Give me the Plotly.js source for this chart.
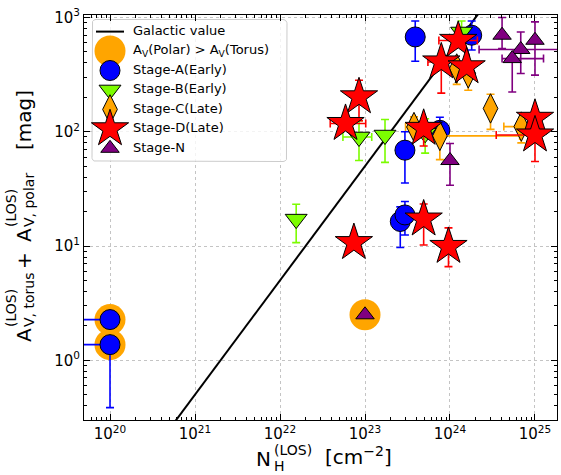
<!DOCTYPE html>
<html>
<head>
<meta charset="utf-8">
<script src="https://cdn.plot.ly/plotly-3.0.1.min.js"></script>
<style>
  html, body { margin: 0; padding: 0; background: #ffffff; }
  #chart { width: 561px; height: 475px; }
</style>
</head>
<body>
<div id="chart"></div>
<script>
// ---------------------------------------------------------------------------
// Line-of-sight hydrogen column N_H [cm^-2] versus total A_V [mag]
// Bounds (lo / hi) are the ends of the error bars; null = no bar on that side.
// ---------------------------------------------------------------------------

// Stage-A (Early)
const stageA_NH   = [1e20, 1e20, 3.9e23, 2.95e23, 1.8e24, 7.6e23, 2.6e23, 2.95e23];
const stageA_AV   = [2.27, 1.37, 676, 69, 700, 103, 16.4, 18.7];
const stageA_NHlo = [1e19, 1e19, null, null, null, null, null, null];
const stageA_NHhi = [null, null, null, null, null, null, null, null];
const stageA_AVlo = [null, 0.385, 414, 35.6, 520, 80, 9.7, 12.5];
const stageA_AVhi = [null, null, 933, 100, 933, 134, 22, 24.5];

// Stage-B (Early)
const stageB_NH   = [1.55e22, 8.5e22, 1.72e23, 5.1e23, 1.37e24];
const stageB_AV   = [17.2, 90, 93.6, 97, 747];
const stageB_NHlo = [null, 5.5e22, null, null, null];
const stageB_NHhi = [null, 1.2e23, null, null, null];
const stageB_AVlo = [10.7, 56, 54, 65, 560];
const stageB_AVhi = [23.2, 125, 128, 130, 933];

// Stage-C (Late)
const stageC_NH   = [3.0e24, 6.9e24, 3.77e23, 7.6e23, 1.64e24, 1.2e24];
const stageC_AV   = [160, 111, 110, 92, 324, 358];
const stageC_NHlo = [null, 4.3e24, 3.0e23, null, null, 9.0e23];
const stageC_NHhi = [null, null, null, 6.6e24, null, null];
const stageC_AVlo = [105, 80, null, 57, 231, 260];
const stageC_AVhi = [213, null, 135, null, null, null];

// Stage-D (Late)
const stageD_NH   = [7.4e22, 4.9e23, 9.6e23, 8.5e22, 5.9e22, 4.9e23, 1e25, 1e25, 1.25e24, 7.9e23, 1.57e24];
const stageD_AV   = [10.7, 17.2, 9.9, 202, 118, 107, 131, 93.6, 630, 408, 370];
const stageD_NHlo = [null, null, null, null, 3.9e22, null, null, 3.5e24, 7.4e23, 5.5e23, null];
const stageD_NHhi = [null, null, null, null, 1.02e23, null, null, null, 2.1e24, null, null];
const stageD_AVlo = [null, 10.2, 6.6, 125, null, 75, null, 55, null, 218, null];
const stageD_AVhi = [null, 23.3, 14.4, 282, null, null, null, null, null, null, null];

// Stage-N
const stageN_NH   = [1e23, 1e24, 4.1e24, 1e25, 6.8e24, 5.4e24];
const stageN_AV   = [2.5, 56, 700, 632, 525, 437];
const stageN_NHlo = [null, null, null, null, 2.2e24, 4.1e24];
const stageN_NHhi = [null, null, null, null, 3e25, 1.26e25];
const stageN_AVlo = [null, 34, 535, 313, 324, 223];
const stageN_AVhi = [null, 79, 1000, 915, 747, null];

// Sources with A_V(polar) > A_V(torus)
const polarDom_NH = [1e20, 1e20, 1e23];
const polarDom_AV = [2.27, 1.37, 2.5];

// Galactic gas-to-dust ratio N_H / A_V [cm^-2 mag^-1]
const galacticRatio = 2.0e21;
const galacticNH = [1e19, 1e26];

// Axis ticks
const xTickVals = [1e20, 1e21, 1e22, 1e23, 1e24, 1e25];
const xTickText = ['10<sup>20</sup>', '10<sup>21</sup>', '10<sup>22</sup>', '10<sup>23</sup>', '10<sup>24</sup>', '10<sup>25</sup>'];
const yTickVals = [1, 10, 100, 1000];
const yTickText = ['10<sup>0</sup>', '10<sup>1</sup>', '10<sup>2</sup>', '10<sup>3</sup>'];

// Legend labels
const legendLabels = ['Galactic value', 'A<sub>V</sub>(Polar) > A<sub>V</sub>(Torus)',
  'Stage-A(Early)', 'Stage-B(Early)', 'Stage-C(Late)', 'Stage-D(Late)', 'Stage-N'];

// ---------------------------------------------------------------------------
const FONT = 'DejaVu Sans, Liberation Sans, sans-serif';

// plot-area placement in page pixels
const M = { l: 84, r: 4, t: 15, b: 55 };
const W = 561, H = 475;
const PW = W - M.l - M.r, PH = H - M.t - M.b;
const px2paperX = p => (p - M.l) / PW;
const px2paperY = p => (H - M.b - p) / PH;

function errBar(vals, lo, hi, color) {
  const minus = vals.map((v, i) => lo[i] == null ? NaN : v - lo[i]);
  const plus = vals.map((v, i) => hi[i] == null ? NaN : hi[i] - v);
  return { type: 'data', symmetric: false, array: plus, arrayminus: minus,
           color: color, thickness: 1.6, width: 4 };
}

const STYLE = {
  polar: { symbol: 'circle', size: 31, color: '#ffa500', line: { width: 0 } },
  A: { symbol: 'circle', size: 20, color: '#0000ff', line: { color: '#000', width: 1 } },
  B: { symbol: 'triangle-down', size: 19, color: '#7cfc00', line: { color: '#000', width: 1 } },
  C: { symbol: 'diamond-tall', size: 21, color: '#ffa500', line: { color: '#000', width: 1 } },
  D: { symbol: 'star', size: 28, color: '#ff0000', line: { color: '#000', width: 1 } },
  N: { symbol: 'triangle-up', size: 16, color: '#800080', line: { color: '#000', width: 1 } }
};

function stageTrace(nh, av, nhlo, nhhi, avlo, avhi, st) {
  return {
    type: 'scatter', mode: 'markers', x: nh, y: av, showlegend: false, hoverinfo: 'skip',
    marker: st,
    error_x: errBar(nh, nhlo, nhhi, st.color),
    error_y: errBar(av, avlo, avhi, st.color)
  };
}

const traces = [
  { type: 'scatter', mode: 'lines', x: galacticNH, y: galacticNH.map(v => v / galacticRatio),
    line: { color: '#000', width: 2 }, showlegend: false, hoverinfo: 'skip' },
  { type: 'scatter', mode: 'markers', x: polarDom_NH, y: polarDom_AV, marker: STYLE.polar,
    showlegend: false, hoverinfo: 'skip' },
  stageTrace(stageA_NH, stageA_AV, stageA_NHlo, stageA_NHhi, stageA_AVlo, stageA_AVhi, STYLE.A),
  stageTrace(stageB_NH, stageB_AV, stageB_NHlo, stageB_NHhi, stageB_AVlo, stageB_AVhi, STYLE.B),
  stageTrace(stageC_NH, stageC_AV, stageC_NHlo, stageC_NHhi, stageC_AVlo, stageC_AVhi, STYLE.C),
  stageTrace(stageD_NH, stageD_AV, stageD_NHlo, stageD_NHhi, stageD_AVlo, stageD_AVhi, STYLE.D),
  stageTrace(stageN_NH, stageN_AV, stageN_NHlo, stageN_NHhi, stageN_AVlo, stageN_AVhi, STYLE.N)
];

// ---- legend, drawn on a pixel-space overlay axis pair ----
const LG = { x0: 92, x1: 287, y0: 19.5, y1: 161.5, r: 4, row0: 31.6, dy: 19.45, mx: 110, tx: 133 };
function roundRect(x0, x1, y0, y1, r) {
  const xs = [], ys = [];
  const corners = [[x1 - r, y0 + r, -90], [x1 - r, y1 - r, 0], [x0 + r, y1 - r, 90], [x0 + r, y0 + r, 180]];
  corners.forEach(([cx, cy, a0]) => {
    for (let k = 0; k <= 6; k++) {
      const a = (a0 + k * 15) * Math.PI / 180;
      xs.push(cx + r * Math.cos(a)); ys.push(cy + r * Math.sin(a));
    }
  });
  xs.push(xs[0]); ys.push(ys[0]);
  return { xs, ys };
}
const box = roundRect(LG.x0, LG.x1, LG.y0, LG.y1, LG.r);
traces.push({ type: 'scatter', mode: 'lines', x: box.xs, y: box.ys, xaxis: 'x2', yaxis: 'y2',
  fill: 'toself', fillcolor: 'rgba(255,255,255,0.8)', line: { color: '#cccccc', width: 1 },
  showlegend: false, hoverinfo: 'skip' });
const rowY = i => LG.row0 + i * LG.dy;
traces.push({ type: 'scatter', mode: 'lines', x: [LG.mx - 14, LG.mx + 14], y: [rowY(0), rowY(0)],
  xaxis: 'x2', yaxis: 'y2', line: { color: '#000', width: 2 }, showlegend: false, hoverinfo: 'skip' });
[STYLE.polar, STYLE.A, STYLE.B, STYLE.C, STYLE.D, STYLE.N].forEach((st, k) => {
  traces.push({ type: 'scatter', mode: 'markers', x: [LG.mx], y: [rowY(k + 1)], xaxis: 'x2', yaxis: 'y2',
    marker: st, showlegend: false, hoverinfo: 'skip' });
});
traces.push({ type: 'scatter', mode: 'text', x: legendLabels.map(() => LG.tx),
  y: legendLabels.map((_, i) => rowY(i)), text: legendLabels, textposition: 'middle right',
  textfont: { family: FONT, size: 13, color: '#000' }, xaxis: 'x2', yaxis: 'y2',
  showlegend: false, hoverinfo: 'skip', cliponaxis: false });

// ---- axis titles built from pieces so sub/superscripts stack ----
const TF = 20, SF = 14;
function ann(text, xpx, ypx, size, angle) {
  return { text: text, xref: 'paper', yref: 'paper', x: px2paperX(xpx), y: px2paperY(ypx),
    xanchor: 'center', yanchor: 'middle', showarrow: false, textangle: angle || 0,
    font: { family: FONT, size: size, color: '#000' } };
}
const annotations = [
  ann('N', 263, 459, TF),
  ann('(LOS)', 293, 450, SF),
  ann('H', 279, 466, SF),
  ann('[cm<sup>\u22122</sup>]', 358, 456, TF),
  ann('A', 24, 335, TF, -90),
  ann('(LOS)', 11, 308, SF, -90),
  ann('V, torus', 29, 300, SF, -90),
  ann('+', 24, 261, TF, -90),
  ann('A', 24, 235, TF, -90),
  ann('(LOS)', 11, 208, SF, -90),
  ann('V, polar', 29, 200, SF, -90),
  ann('[mag]', 24, 120, TF, -90)
];

const axisCommon = {
  type: 'log', showline: true, linecolor: '#000', linewidth: 1, mirror: 'ticks',
  ticks: 'inside', ticklen: 6, tickwidth: 1, tickcolor: '#000',
  tickmode: 'array', showgrid: true, gridcolor: '#c4c4c4', gridwidth: 1, griddash: '3px,3px',
  zeroline: false, tickfont: { family: FONT, size: 15, color: '#000' },
  minor: { ticks: 'inside', ticklen: 3, tickwidth: 1, tickcolor: '#000', dtick: 'D1', showgrid: false }
};

const layout = {
  width: W, height: H, margin: M, paper_bgcolor: '#fff', plot_bgcolor: '#fff',
  showlegend: false, font: { family: FONT, color: '#000' },
  xaxis: Object.assign({}, axisCommon, { range: [19.694, 25.259], tickvals: xTickVals, ticktext: xTickText }),
  yaxis: Object.assign({}, axisCommon, { range: [Math.log10(0.3), 3.022], tickvals: yTickVals, ticktext: yTickText }),
  xaxis2: { overlaying: 'x', range: [M.l, W - M.r], visible: false, fixedrange: true },
  yaxis2: { overlaying: 'y', range: [H - M.b, M.t], visible: false, fixedrange: true },
  annotations: annotations
};

Plotly.newPlot('chart', traces, layout, { staticPlot: true, displayModeBar: false });
</script>
</body>
</html>
